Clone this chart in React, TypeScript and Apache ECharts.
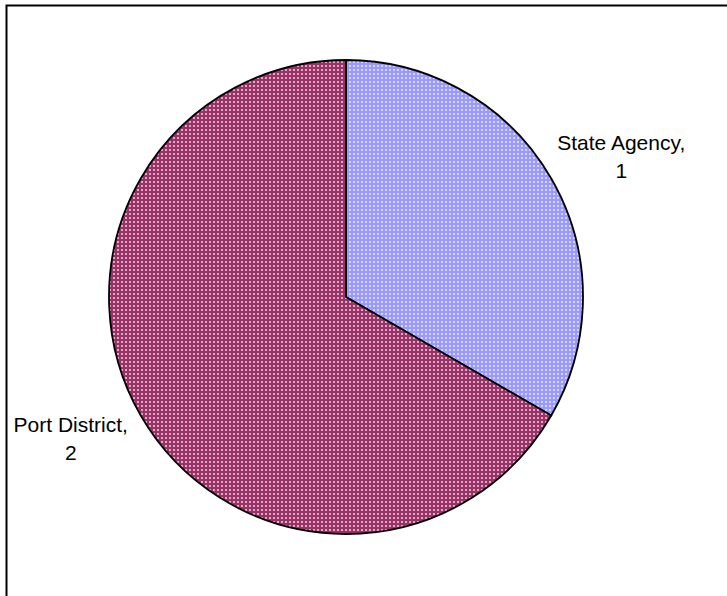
import React, { useEffect, useRef } from "react";
import * as echarts from "echarts";

const categories = ["State Agency", "Port District"];
const values = [1, 2];
const baseColors = ["#9999FF", "#993366"];
const dotColors = ["#D6D6FF", "#E0A8C8"];

function makePattern(base: string, dot: string): HTMLCanvasElement {
  const c = document.createElement("canvas");
  c.width = 4;
  c.height = 4;
  const ctx = c.getContext("2d")!;
  ctx.fillStyle = base;
  ctx.fillRect(0, 0, 4, 4);
  ctx.fillStyle = dot;
  ctx.fillRect(1, 1, 2, 2);
  return c;
}

export default function App() {
  const ref = useRef<HTMLDivElement>(null);
  useEffect(() => {
    if (!ref.current) return;
    const chart = echarts.init(ref.current, null, { renderer: "svg" });
    const data = categories.map((name, i) => ({
      name,
      value: values[i],
      itemStyle: {
        color: {
          image: makePattern(baseColors[i], dotColors[i]),
          repeat: "repeat",
        } as any,
      },
    }));
    chart.setOption({
      animation: false,
      backgroundColor: "#ffffff",
      graphic: [
        {
          type: "rect",
          shape: { x: 6.5, y: 5.5, width: 900, height: 900 },
          style: { fill: "none", stroke: "#000", lineWidth: 2 },
          silent: true,
          z: 100,
        },
      ],
      series: [
        {
          type: "pie",
          center: [346, 297],
          radius: 237,
          startAngle: 90,
          clockwise: true,
          data,
          itemStyle: { borderColor: "#000", borderWidth: 1.8 },
          emphasis: { disabled: true },
          label: {
            show: true,
            position: "outside",
            formatter: "{b},\n{c}",
            fontFamily: "Liberation Sans, Arial, sans-serif",
            fontSize: 21,
            lineHeight: 28,
            color: "#000",
            width: 200,
            overflow: "none",
          },
          labelLine: { show: false, length: 45, length2: 26 },
          labelLayout: { align: "center", verticalAlign: "middle" },
        },
      ],
    });
    return () => chart.dispose();
  }, []);
  return (
    <div
      ref={ref}
      style={{ position: "fixed", left: 0, top: 0, width: 727, height: 596 }}
    />
  );
}
